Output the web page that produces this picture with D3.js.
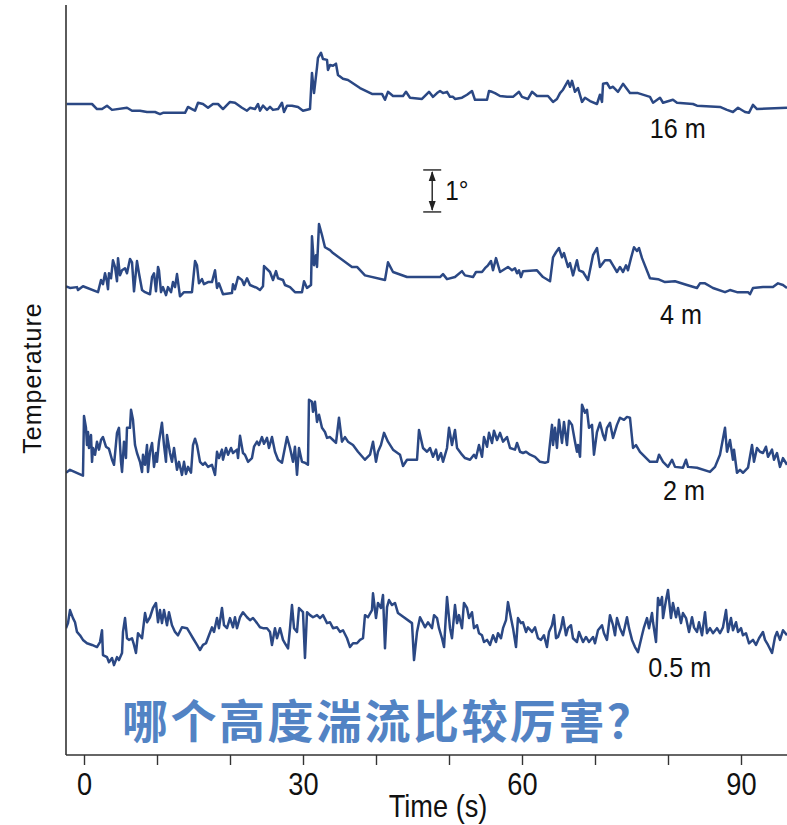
<!DOCTYPE html>
<html>
<head>
<meta charset="utf-8">
<title>Temperature at four heights</title>
<script src="https://cdn.jsdelivr.net/npm/d3@7"></script>
<style>
    body { margin: 0; background: #fff; }
    .axis .domain { display: none; }
    .axis line { stroke: #333; stroke-width: 1.4; }
</style>
</head>
<body>
<svg width="787" height="825"></svg>
<script>

    // time (s), temperature deviation (deg) for each height
    var s16 = [[-2.37,.14],[1.10,.14],[1.78,.02],[2.47,.02],[3.15,.10],[3.84,0],[5.89,.05],[6.58,-.02],[7.67,-.02],[8.63,-.05],[9.73,-.05],[10.41,-.10],[10.82,-.07],[13.84,-.07],[14.25,.07],[14.79,.02],[15.21,-.02],[15.62,.17],[16.30,.14],[16.99,.05],[17.67,.14],[18.36,.14],[19.04,.02],[20.0,.19],[20.68,.17],[21.64,.05],[22.33,-.02],[22.74,.05],[23.42,.02],[23.84,.14],[24.11,-.02],[24.52,.10],[25.07,0],[25.48,.07],[25.89,0],[26.58,.02],[27.12,.17],[27.40,-.05],[27.81,.10],[28.49,.10],[29.32,.07],[30.0,-.02],[30.96,.02],[31.23,.88],[31.51,.40],[31.92,1.02],[32.05,1.24],[32.47,1.36],[32.74,1.21],[33.29,1.19],[33.42,.95],[33.70,1.07],[34.11,1.05],[34.52,1.10],[34.79,.83],[35.48,.74],[36.16,.71],[37.81,.52],[39.45,.38],[40.82,.38],[41.23,.24],[41.64,.43],[42.33,.33],[43.70,.33],[44.11,.43],[44.66,.29],[46.30,.26],[47.26,.43],[47.81,.31],[48.36,.40],[48.77,.45],[49.18,.40],[49.73,.43],[50.14,.31],[50.55,.31],[50.82,.26],[51.78,.29],[52.47,.36],[53.15,.45],[53.56,.24],[55.21,.24],[55.48,.45],[55.89,.43],[56.30,.40],[56.99,.33],[57.95,.31],[58.77,.31],[59.59,.43],[60.0,.31],[60.82,.26],[61.37,.43],[62.05,.33],[63.56,.33],[64.25,.19],[64.79,.26],[65.21,.40],[65.62,.48],[66.30,.69],[66.58,.55],[66.85,.69],[67.26,.43],[67.67,.52],[68.22,.19],[68.63,.29],[69.32,.21],[70.27,.14],[70.68,.36],[70.96,.19],[71.10,.62],[71.64,.64],[72.05,.52],[72.47,.55],[73.15,.43],[73.84,.62],[74.79,.40],[75.89,.40],[77.53,.31],[77.95,.17],[78.90,.29],[79.32,.17],[80.68,.24],[81.23,.17],[83.42,.14],[83.97,.10],[87.12,.07],[88.08,0],[88.90,-.05],[89.59,.05],[90.55,-.05],[91.10,-.07],[91.64,.12],[92.19,.02],[96.30,.05]];

    var s4 = [[-2.47,.14],[-1.92,.10],[-0.96,.12],[-0.82,.05],[-0.14,.14],[1.92,0],[2.33,.29],[2.60,.19],[2.88,.45],[3.15,.24],[3.29,.07],[3.42,.45],[3.70,.33],[3.97,.76],[4.25,.60],[4.52,.26],[4.66,.81],[4.93,.40],[5.21,.52],[5.62,.57],[5.89,.45],[6.30,.79],[6.58,.71],[6.85,.02],[7.26,.74],[7.53,.45],[7.95,.05],[8.36,0],[9.04,-.05],[9.32,.36],[9.59,.45],[9.86,.02],[10.14,.60],[10.27,.52],[10.55,0],[10.82,.12],[11.23,-.07],[11.51,.12],[11.92,0],[12.19,.24],[12.47,.12],[12.74,.43],[13.15,-.10],[13.70,0],[14.79,0],[15.21,.74],[15.48,.64],[15.75,.21],[16.16,.31],[16.44,.19],[16.99,.24],[17.53,.24],[17.95,.52],[18.22,.10],[18.49,.21],[19.04,-.05],[20.27,-.02],[20.41,.19],[20.68,.07],[21.10,.36],[21.64,.29],[21.92,.17],[22.33,.33],[22.74,.17],[23.70,.10],[24.11,.05],[24.52,.14],[24.66,.62],[25.48,.48],[25.89,.29],[26.30,.50],[26.58,.33],[27.26,.29],[27.53,.17],[28.22,.12],[28.90,0],[29.86,0],[30.14,.26],[30.55,.10],[31.10,.17],[31.23,1.33],[31.51,.64],[31.78,.88],[31.92,.60],[32.19,1.62],[32.60,1.36],[33.01,1.07],[33.70,1.00],[34.11,.93],[36.71,.60],[37.40,.60],[38.49,.40],[41.23,.29],[41.64,.71],[42.33,.48],[44.25,.36],[48.77,.36],[49.18,.43],[49.73,.31],[50.82,.36],[51.78,.50],[52.19,.40],[53.29,.36],[53.70,.48],[54.52,.48],[54.93,.57],[55.34,.64],[55.75,.74],[56.03,.52],[56.44,.81],[56.99,.48],[58.08,.60],[58.63,.52],[59.04,.57],[59.32,.45],[59.59,.52],[59.86,.36],[60.14,.50],[62.05,.52],[62.88,.36],[63.84,.26],[64.25,.83],[64.66,.95],[65.07,1.05],[65.48,.83],[65.75,.93],[66.30,.60],[66.58,.69],[66.99,.40],[67.53,.76],[67.81,.52],[68.36,.48],[69.04,.29],[69.73,.88],[70.27,1.05],[70.68,.60],[71.37,.76],[72.05,.76],[72.47,.64],[73.01,.48],[73.42,.60],[73.84,.48],[74.25,.64],[74.52,.52],[74.93,.81],[75.34,1.07],[75.75,.98],[76.03,1.05],[76.44,.81],[77.53,.33],[78.63,.31],[79.59,.24],[80.96,.26],[82.60,.17],[83.97,.10],[84.38,.21],[85.07,.21],[86.16,.10],[87.81,0],[88.49,.05],[89.45,0],[90.96,0],[91.23,-.05],[91.64,.10],[93.01,.12],[94.38,.12],[95.07,.21],[95.75,.17],[96.30,.10]];

    var s2 = [[-2.47,.05],[-1.92,.12],[-0.14,-.02],[0.0,1.40],[0.27,1.12],[0.41,.71],[0.55,1.02],[0.68,.64],[0.96,.95],[1.10,.31],[1.23,.64],[1.51,.48],[1.78,.79],[2.05,.60],[2.33,.83],[2.60,.90],[3.01,.67],[3.42,.62],[3.84,.36],[4.11,.24],[4.52,1.00],[4.79,1.12],[5.07,.31],[5.21,.07],[5.48,.79],[5.75,.40],[5.89,1.12],[6.30,1.12],[6.44,1.55],[6.71,1.31],[6.99,.71],[7.26,.52],[7.67,.31],[7.95,.07],[8.08,.48],[8.36,.24],[8.63,.71],[8.77,.07],[9.04,.55],[9.32,.76],[9.59,.19],[9.86,.52],[10.0,.31],[10.27,.79],[10.68,1.24],[10.96,.71],[11.23,.31],[11.37,.95],[11.78,.52],[12.05,.31],[12.33,.64],[12.74,.12],[13.01,.31],[13.42,0],[13.70,.31],[13.97,.02],[14.25,.19],[14.66,.05],[14.93,.71],[15.21,.86],[15.48,.71],[15.89,.31],[16.30,.24],[16.58,.29],[16.99,.19],[17.53,.24],[17.95,0],[18.22,.55],[18.49,.40],[18.90,.60],[19.04,.36],[19.45,.64],[19.73,.48],[20.14,.64],[20.41,.52],[20.96,.60],[21.10,.40],[21.37,.93],[21.78,.52],[22.05,.48],[22.47,.31],[23.01,.40],[23.29,.67],[23.70,.79],[23.97,.71],[24.38,.90],[24.66,.74],[25.07,.88],[25.34,.64],[25.75,.90],[26.16,.55],[26.58,.36],[27.12,.29],[27.81,.90],[28.22,.64],[28.63,.31],[28.90,.67],[29.18,0],[29.45,.64],[29.86,.31],[30.27,.29],[30.68,.24],[30.82,1.79],[31.23,1.74],[31.37,1.50],[31.64,1.74],[31.92,1.26],[32.19,1.43],[32.60,1.12],[33.01,1.02],[33.29,.88],[33.70,.90],[34.11,.83],[34.52,.76],[34.93,1.36],[35.34,.79],[35.75,.90],[36.16,.79],[36.85,.71],[37.53,.55],[38.49,.36],[39.18,.48],[39.59,.79],[40.0,.31],[40.27,.55],[40.68,.71],[41.10,1.00],[41.64,.79],[42.33,.60],[43.29,.48],[43.70,.21],[44.25,.36],[45.62,.36],[45.89,1.07],[46.44,.64],[46.99,.55],[47.40,.64],[47.81,.43],[48.22,.60],[48.49,.36],[48.90,.52],[49.18,.31],[49.73,.64],[50.0,1.12],[50.41,.71],[50.82,1.07],[51.10,.64],[51.78,.48],[52.19,.40],[52.88,.36],[53.42,.48],[53.70,.40],[54.11,.71],[54.52,.43],[54.79,.90],[55.21,.67],[55.48,1.00],[55.89,.76],[56.16,1.05],[56.58,.83],[56.99,1.00],[57.40,.79],[57.95,.90],[58.36,.64],[59.04,.60],[59.32,.76],[59.73,.55],[60.14,.52],[60.55,.55],[61.10,.48],[61.78,.43],[62.47,.31],[63.15,.29],[63.56,.31],[64.11,1.19],[64.25,.71],[64.52,1.12],[64.79,.64],[65.07,1.31],[65.48,.76],[65.75,1.26],[66.16,.71],[66.44,1.29],[66.85,1.19],[67.26,.79],[67.53,.55],[67.67,.71],[67.95,.43],[68.22,1.67],[68.63,1.48],[68.90,1.55],[69.18,1.12],[69.59,1.19],[69.86,.48],[70.27,1.02],[70.68,1.24],[71.10,.95],[71.37,.83],[71.64,1.12],[72.05,1.24],[72.47,.88],[73.01,1.19],[73.42,1.36],[73.97,1.31],[74.38,1.38],[74.79,1.36],[75.21,.64],[75.62,.71],[76.16,.55],[77.53,.31],[78.49,.31],[78.77,.48],[79.32,.31],[80.0,.19],[80.55,.36],[80.96,.19],[82.05,.17],[82.47,.36],[82.74,.19],[83.97,.17],[85.75,.07],[86.44,.19],[87.12,.48],[87.81,1.12],[88.08,.55],[88.49,.83],[88.90,.36],[89.04,.60],[89.45,.05],[89.86,.12],[90.27,.05],[90.96,.17],[91.51,.71],[91.78,.31],[92.19,.64],[92.60,.55],[93.01,.52],[93.42,.67],[93.70,.43],[94.25,.60],[94.52,.36],[94.93,.52],[95.34,.19],[95.75,.40],[96.30,.24]];

    var s05 = [[-2.47,.88],[-2.19,1.00],[-1.92,1.31],[-1.51,1.12],[-1.23,1.02],[-0.96,.79],[-0.55,.71],[-0.14,.60],[0.41,.52],[1.10,.48],[1.78,.43],[2.19,.55],[2.47,.83],[2.60,.24],[3.15,.19],[3.42,.07],[3.84,.17],[4.11,0],[4.52,.19],[4.79,.12],[5.21,.29],[5.34,.79],[5.62,1.12],[5.89,.64],[6.16,.60],[6.58,.64],[6.85,.48],[7.12,.29],[7.40,.76],[7.95,.64],[8.36,1.24],[8.63,1.02],[9.04,1.14],[9.45,1.36],[9.86,1.48],[10.14,1.02],[10.41,1.31],[10.68,1.00],[10.96,1.31],[11.37,.95],[11.64,1.26],[12.05,.95],[12.47,.79],[12.88,.71],[13.42,.90],[14.11,.88],[14.52,.76],[14.93,.64],[15.48,.48],[15.89,.36],[16.30,.48],[16.71,.52],[17.12,.71],[17.53,.90],[17.81,.79],[18.22,1.12],[18.49,.88],[18.90,1.36],[19.18,.95],[19.59,.88],[20.0,1.12],[20.41,.90],[20.68,1.14],[20.96,.88],[21.37,1.14],[21.78,1.26],[22.33,1.14],[22.74,1.07],[23.15,1.12],[23.70,1.00],[24.11,.90],[24.52,.88],[25.07,.88],[25.48,.79],[25.75,.48],[26.16,.88],[26.44,.64],[26.85,.88],[27.26,.60],[27.53,.52],[27.95,.40],[28.22,.88],[28.49,1.43],[28.77,.88],[29.18,.79],[29.45,1.36],[30.0,1.26],[30.27,.17],[30.55,1.26],[30.96,1.19],[31.37,1.14],[31.92,1.19],[32.33,1.12],[32.74,1.19],[33.29,1.00],[33.70,1.02],[34.11,.88],[34.66,.90],[35.07,.79],[35.48,.83],[36.03,.64],[36.44,.43],[36.85,.52],[37.40,.52],[37.81,.60],[38.22,.64],[38.49,1.19],[38.90,1.14],[39.45,1.31],[39.59,1.71],[40.0,1.12],[40.27,1.48],[40.68,1.36],[40.96,1.67],[41.23,.40],[41.51,1.38],[41.78,1.55],[42.19,1.43],[42.60,1.48],[43.01,1.24],[44.93,1.00],[45.21,.12],[45.62,.79],[46.03,1.14],[46.44,1.00],[46.71,.90],[47.12,1.02],[47.67,.88],[47.95,1.19],[48.36,1.12],[48.63,.88],[49.04,.64],[49.32,.43],[49.73,1.62],[50.14,.88],[50.41,.64],[50.82,1.43],[51.10,1.00],[51.37,1.19],[51.78,.88],[52.05,1.48],[52.47,1.36],[52.74,1.12],[53.15,1.26],[53.42,.88],[53.84,.95],[54.11,.76],[54.52,.71],[54.79,.55],[55.21,.60],[55.62,.48],[56.03,.71],[56.44,.55],[56.71,.76],[57.12,.64],[57.40,.88],[57.81,1.07],[58.08,1.50],[58.49,1.12],[58.77,.88],[59.18,.43],[59.45,1.12],[59.86,1.00],[60.14,1.02],[60.55,.79],[60.82,.90],[61.37,.79],[61.78,.90],[62.19,.64],[62.60,.60],[63.01,.71],[63.42,.43],[63.70,.79],[64.11,.95],[64.38,1.19],[64.66,.64],[64.93,.67],[65.34,.88],[65.62,1.14],[66.03,.71],[66.30,.88],[66.71,.95],[66.99,.64],[67.53,.55],[67.81,.79],[68.36,.55],[68.77,.67],[69.18,.55],[69.73,.67],[70.0,.52],[70.41,.83],[70.96,.95],[71.23,.76],[71.64,.60],[72.05,1.19],[72.47,.95],[72.74,.71],[73.01,1.12],[73.42,.88],[73.84,.71],[74.38,1.14],[74.66,.88],[75.07,.60],[75.48,.43],[75.89,.31],[76.44,.71],[76.71,.90],[77.12,1.12],[77.40,.88],[77.81,1.24],[77.95,1.02],[78.36,.55],[78.63,1.60],[78.90,1.43],[79.18,1.62],[79.32,1.12],[79.73,1.55],[80.0,1.79],[80.41,1.12],[80.68,1.48],[81.10,1.14],[81.37,1.36],[81.78,1.00],[82.05,1.24],[82.47,1.12],[82.88,.79],[83.29,1.14],[83.56,.90],[83.97,.79],[84.25,1.02],[84.66,.71],[85.07,1.26],[85.34,.76],[85.75,.88],[86.16,.76],[86.71,.88],[87.12,.76],[87.53,.90],[87.95,1.31],[88.22,.79],[88.63,1.12],[88.90,.83],[89.32,1.02],[89.59,.79],[90.0,.88],[90.27,.71],[90.68,.76],[91.10,.52],[91.64,.60],[92.05,.48],[92.47,.64],[93.01,.79],[93.29,.60],[93.70,.48],[94.25,.29],[94.66,.67],[94.93,.79],[95.34,.60],[95.75,.83],[96.30,.71]];

    var series = [s16, s4, s2, s05];
    var heights = ["16 m", "4 m", "2 m", "0.5 m"];
    var offsets = [15.36, 11.02, 6.67, 2.14];   // vertical shift of each trace (deg)
    var timeTicks = [0, 10, 20, 30, 40, 50, 60, 70, 80, 90];
    var timeLabels = ["0", "", "", "30", "", "", "60", "", "", "90"];
    var title = "哪个高度湍流比较厉害？";

    var svg = d3.select("svg"),
        plotLeft = 66, plotRight = 787, plotTop = 5, plotBottom = 755;

    var x = d3.scaleLinear().domain([0, 90]).range([84, 741]);
    var y = d3.scaleLinear().domain([0, 1]).range([plotBottom, plotBottom - 42]);

    var condensed = "'Liberation Sans', Arial, sans-serif";

    svg.append("defs").append("clipPath").attr("id", "plot")
        .append("rect")
        .attr("x", plotLeft).attr("y", plotTop)
        .attr("width", plotRight - plotLeft).attr("height", plotBottom - plotTop);

    // traces
    var line = d3.line()
        .x(function (d) { return x(d[0]); })
        .y(function (d) { return y(d[1]); });

    svg.append("g")
        .attr("clip-path", "url(#plot)")
        .selectAll("path")
        .data(series)
        .enter().append("path")
        .attr("d", function (d, i) {
            return line(d.map(function (p) { return [p[0], p[1] + offsets[i]]; }));
        })
        .attr("fill", "none")
        .attr("stroke", "#2b4884")
        .attr("stroke-width", 2.5)
        .attr("stroke-linejoin", "round");

    // height labels
    var labelAt = [[77.5, 14.69], [78.9, 10.26], [79.3, 6.07], [77.3, 1.86]];
    svg.append("g")
        .selectAll("text")
        .data(heights)
        .enter().append("text")
        .attr("transform", function (d, i) {
            return "translate(" + x(labelAt[i][0]) + "," + y(labelAt[i][1]) + ") scale(0.9,1)";
        })
        .attr("font-family", condensed)
        .attr("font-size", 28)
        .attr("fill", "#111")
        .text(function (d) { return d; });

    // frame
    svg.append("line")
        .attr("x1", plotLeft).attr("x2", plotLeft)
        .attr("y1", plotTop).attr("y2", plotBottom)
        .attr("stroke", "#333").attr("stroke-width", 1.6);
    svg.append("line")
        .attr("x1", plotLeft).attr("x2", plotRight)
        .attr("y1", plotBottom).attr("y2", plotBottom)
        .attr("stroke", "#333").attr("stroke-width", 1.6);

    var xAxis = svg.append("g")
        .attr("class", "axis")
        .attr("transform", "translate(0," + plotBottom + ")")
        .call(d3.axisBottom(x)
            .tickValues(timeTicks)
            .tickSize(10)
            .tickFormat(function (d, i) { return timeLabels[i]; }));

    xAxis.selectAll("text")
        .attr("y", 17)
        .attr("font-family", condensed)
        .attr("font-size", 32)
        .attr("fill", "#111")
        .attr("transform", "scale(0.85,1)");

    svg.append("text")
        .attr("transform", "translate(" + x(48.5) + ",817) scale(0.85,1)")
        .attr("text-anchor", "middle")
        .attr("font-family", condensed)
        .attr("font-size", 32)
        .attr("fill", "#111")
        .text("Time (s)");

    svg.append("text")
        .attr("transform", "translate(41,378) rotate(-90)")
        .attr("text-anchor", "middle")
        .attr("font-family", "'Liberation Sans', Arial, sans-serif")
        .attr("font-size", 25)
        .attr("letter-spacing", 1)
        .attr("fill", "#111")
        .text("Temperature");

    // 1 degree scale bar
    var barX = x(47.7), barLo = y(12.93), barHi = y(13.93);
    var bar = svg.append("g").attr("stroke", "#222").attr("stroke-width", 1.4);
    bar.append("line").attr("x1", barX).attr("x2", barX).attr("y1", barHi + 2).attr("y2", barLo - 2);
    bar.append("line").attr("x1", barX - 9).attr("x2", barX + 9).attr("y1", barHi).attr("y2", barHi);
    bar.append("line").attr("x1", barX - 9).attr("x2", barX + 9).attr("y1", barLo).attr("y2", barLo);
    bar.append("path")
        .attr("d", "M" + barX + "," + (barHi + 1) + "l-3.5,10h7z M" + barX + "," + (barLo - 1) + "l-3.5,-10h7z")
        .attr("fill", "#222").attr("stroke", "none");
    svg.append("text")
        .attr("transform", "translate(" + (barX + 13) + "," + (barLo - 12) + ") scale(0.9,1)")
        .attr("font-family", condensed)
        .attr("font-size", 27)
        .attr("fill", "#111")
        .text("1°");

    // question overlay
    svg.append("text")
        .attr("x", 122)
        .attr("y", 738)
        .attr("font-family", "'Noto Sans CJK SC', sans-serif")
        .attr("font-weight", "bold")
        .attr("font-size", 46)
        .attr("letter-spacing", 2.5)
        .attr("fill", "#5283c4")
        .text(title);

</script>
</body>
</html>
